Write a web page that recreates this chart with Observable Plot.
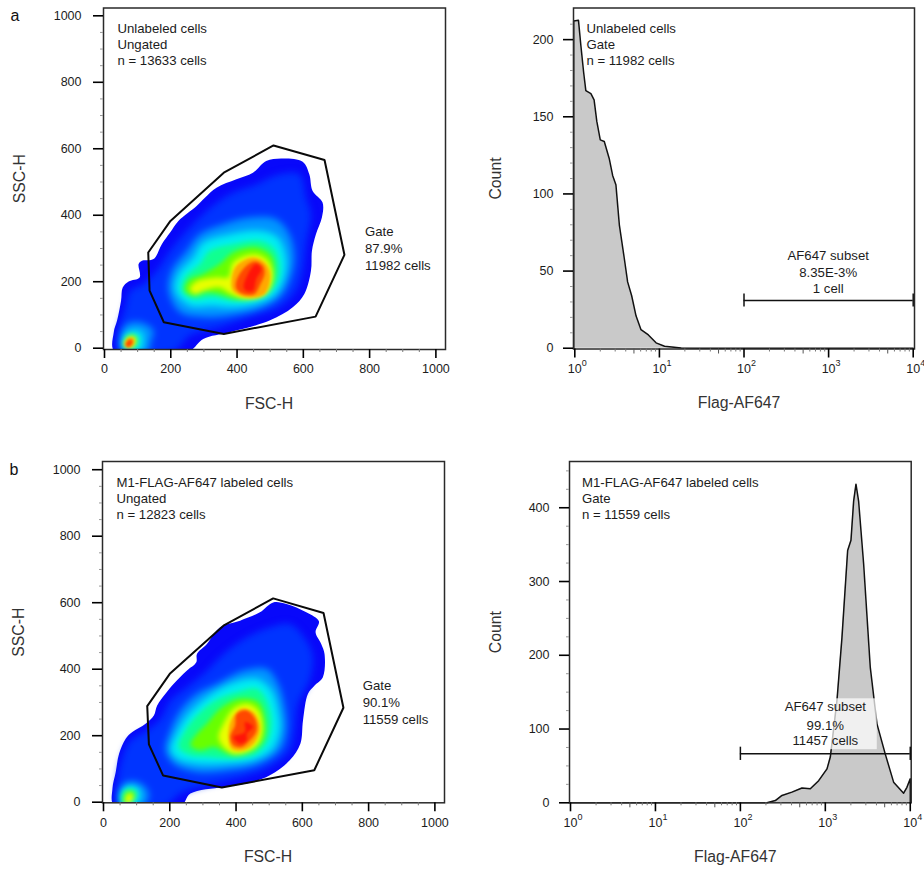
<!DOCTYPE html>
<html><head><meta charset="utf-8">
<script src="https://cdn.jsdelivr.net/npm/d3@7"></script>
<script src="https://cdn.jsdelivr.net/npm/@observablehq/plot@0.6"></script>
<style>
html,body{margin:0;padding:0;background:#fff}
#root{position:relative;width:924px;height:871px;overflow:hidden}
#root svg{position:absolute;display:block;overflow:visible}
</style></head><body><div id="root"></div>
<script>
// density level colours, low to high
const jet = ["#0808fa","#0034ff","#0094ff","#00eef0","#10ff90","#68ff00","#e8ff00","#ffa800","#ff4800","#ff1408"];

// panel a: FSC-H / SSC-H density contours [x, y]
const densityA = [
 [[30,-10],[28,48],[38,83],[50,143],[55,183],[73,201],[106,213],[103,253],[113,263],[148,268],[173,313],[198,348],[223,383],[278,428],[303,453],[338,483],[398,508],[448,528],[488,563],[533,571],[598,561],[618,523],[628,473],[658,438],[656,393],[638,343],[626,293],[623,233],[603,163],[568,123],[498,83],[378,48],[298,28],[253,-10]],
 [[48,-10],[43,53],[63,123],[78,173],[118,193],[158,233],[198,293],[248,353],[308,413],[378,463],[458,493],[528,523],[588,523],[608,453],[623,403],[608,313],[598,233],[578,173],[528,123],[438,93],[348,63],[258,38],[208,-10]],
 [[193,173],[203,233],[248,293],[288,343],[358,373],[438,393],[518,388],[558,343],[573,273],[558,203],[528,153],[468,118],[378,98],[298,93],[228,108]],
 [[213,173],[223,223],[268,273],[298,318],[378,343],[468,353],[523,333],[548,273],[543,213],[513,158],[458,133],[388,123],[328,128],[258,128]],
 [[233,173],[243,213],[288,253],[318,293],[388,313],[468,323],[513,298],[528,253],[523,203],[493,163],[438,143],[378,143],[328,153],[268,148]],
 [[243,173],[253,203],[298,223],[348,253],[388,288],[458,303],[503,278],[513,233],[503,183],[473,153],[398,148],[348,163],[308,168],[268,158]],
 [[258,178],[278,201],[338,213],[373,213],[388,258],[448,283],[488,268],[508,223],[488,163],[428,148],[383,163],[348,183],[298,173],[273,163]],
 [[383,203],[398,248],[448,273],[483,258],[500,223],[483,163],[428,153],[388,173]],
 [[398,203],[423,243],[453,261],[478,248],[483,223],[468,188],[453,163],[418,163],[398,178]],
 [[420,183],[433,223],[458,253],[473,238],[458,208],[448,173],[428,173]]
];
const densityASmall = [
 null, null,
 [[53,-10],[48,43],[68,73],[108,78],[148,53],[138,13],[133,-10]],
 [[55,-10],[58,38],[83,53],[113,48],[118,23],[108,-10]],
 [[58,8],[66,35],[88,43],[103,28],[93,3]],
 [[60,10],[68,34],[89,38],[98,24],[86,4]],
 [[60,8],[70,32],[90,35],[94,18],[80,0]],
 [[61,10],[71,29],[87,30],[88,13],[72,1]],
 [[64,10],[73,25],[84,24],[83,11],[71,3]],
 null
];
// panel b
const densityB = [
 [[32,-10],[27,41],[37,91],[47,146],[67,191],[87,211],[127,236],[152,261],[162,291],[187,326],[212,356],[252,396],[280,421],[282,446],[312,476],[352,526],[412,546],[472,571],[512,601],[552,596],[612,571],[650,544],[640,511],[657,476],[667,446],[662,376],[637,351],[617,326],[602,246],[594,176],[562,126],[502,81],[432,56],[362,46],[262,26],[234,-10]],
 [[47,-10],[42,56],[57,136],[82,186],[132,216],[172,251],[202,306],[252,346],[302,386],[362,446],[432,496],[502,526],[562,536],[612,486],[632,436],[622,366],[587,296],[577,216],[562,156],[502,106],[422,76],[332,56],[232,26],[187,-10]],
 [[187,156],[202,216],[232,276],[282,326],[342,356],[422,396],[492,401],[527,356],[547,286],[552,216],[532,156],[472,116],[382,96],[282,91],[212,116]],
 [[202,156],[222,211],[257,266],[312,316],[382,356],[462,371],[507,336],[527,276],[532,216],[507,156],[452,126],[362,116],[282,116],[222,131]],
 [[227,166],[247,216],[282,261],[337,306],[402,331],[462,341],[492,306],[507,246],[497,186],[462,146],[392,131],[322,136],[262,141]],
 [[262,171],[282,206],[312,236],[352,281],[412,311],[467,301],[487,251],[484,191],[452,156],[392,141],[332,166],[292,156]],
 [[347,196],[362,236],[392,281],[432,296],[467,276],[480,226],[467,176],[432,151],[392,146],[362,166]],
 [[377,196],[387,251],[417,281],[452,271],[472,226],[457,181],[422,156],[387,161]],
 [[382,196],[397,231],[402,266],[432,276],[457,251],[462,216],[442,186],[417,166],[392,171]],
 [[392,196],[427,211],[427,241],[442,236],[452,226],[432,206],[432,186],[412,176]]
];
const densityBSmall = [
 null, null,
 [[52,-10],[47,36],[72,61],[112,56],[137,26],[122,-10]],
 [[54,-10],[52,31],[77,51],[107,41],[112,16],[97,-10]],
 [[57,-4],[59,31],[80,41],[100,31],[97,11],[82,-4]],
 [[62,-4],[65,26],[80,34],[95,24],[90,8],[74,-4]],
 [[67,-4],[72,24],[84,26],[89,14],[80,-4]],
 null, null, null
];
const gateA = [[132,288],[136,173],[179,78],[360,43],[637,95],[724,281],[664,566],[510,610],[360,528],[199,383]];
const gateB = [[132,289],[137,174],[180,80],[357,44],[636,96],[724,284],[664,569],[512,613],[362,531],[200,386]];

// histograms
const histAx = [0.97,0.97,1.105,1.18,1.27,1.35,1.55,1.69,1.82,2.0,2.23,2.55,2.8,3.06,3.36,3.85,4.21,4.7,5.29,6.06,7.41,9.13,11.5,18.1,30,10000];
const histAy = [0,212,212.5,196,179,167,165,161,147,135,134,123,112,106,80,58,43,34,21,12,8.6,3.5,1.3,0.2,0,0];
const histBx = [0.97,206,258,309,405,531,666,835,1047,1145,1372,1570,1832,2005,2155,2296,2466,2825,3381,4055,5082,6368,8356,9140,10000,10000];
const histBy = [0,0,3,10,14.5,20,19,30,46,62,139,224,342,356,409,432,409,324,184,107,66,28,13,21,32.5,0];

const scatterMajor = [0,200,400,600,800,1000];
const scatterMinor = [50,100,150,250,300,350,450,500,550,650,700,750,850,900,950];
const decades = [1,10,100,1000,10000];
const exponents = ["0","1","2","3","4"];
const logMinorShort = [2,3,4,6,7,8,9].flatMap(d => [1,10,100,1000].map(m => d*m));
const logMinorMid = [5,50,500,5000];
const histATicks = [0,50,100,150,200];
const histAMinor = [10,20,30,40,60,70,80,90,110,120,130,140,160,170,180,190,210];
const histBTicks = [0,100,200,300,400];
const histBMinor = [25,50,75,125,150,175,225,250,275,325,350,375,425,450];

const FONT = '"Liberation Sans", Arial, Helvetica, sans-serif';
const INK = "#1c1c1c";
const root = document.getElementById("root");

function place(svg, left, top){ svg.style.left = left+"px"; svg.style.top = top+"px"; root.appendChild(svg); }

function levelRows(levels, small){
  const rows = [];
  levels.forEach((pts,i)=>{
    pts.forEach(p=>rows.push({x:p[0],y:p[1],id:"m"+i,c:jet[i],lv:i}));
    if(small[i]) small[i].forEach(p=>rows.push({x:p[0],y:p[1],id:"s"+i,c:jet[i],lv:i}));
  });
  return rows;
}

function axes(opts){
  return [
    Plot.axisX({ticks:opts.xMajor, tickFormat:opts.xFormat, tickSize:9, tickPadding:opts.xPad, fontSize:12.5, fill:INK, stroke:"#000", strokeWidth:1.6, label:null, anchor:"bottom"}),
    Plot.axisY({ticks:opts.yMajor, tickFormat:"d", tickSize:10, tickPadding:opts.yPad, fontSize:12.5, fill:INK, stroke:"#000", strokeWidth:1.6, label:null, anchor:"left"})
  ];
}

function scatterPanel(c){
  const rows = levelRows(c.levels, c.small);
  const band = (a,b) => rows.filter(r=>r.lv>=a && r.lv<=b);
  const contour = {x:"x",y:"y",z:"id",fill:"c",stroke:null,curve:"catmull-rom-closed",clip:true};
  const gateRows = [...c.gate, c.gate[0]].map(p=>({x:p[0],y:p[1]}));
  const svg = Plot.plot({
    width:c.w, height:c.h, marginLeft:c.ml, marginRight:c.w-c.ml-c.fw, marginTop:c.mt, marginBottom:c.h-c.mt-c.fh,
    x:{domain:c.xd}, y:{domain:c.yd},
    style:{fontFamily:FONT, background:"transparent", color:INK},
    marks:[
      Plot.line(band(0,0),contour),
      Plot.line(band(1,3),{...contour,imageFilter:"blur(3.6px)"}),
      Plot.line(band(4,6),{...contour,imageFilter:"blur(2.4px)"}),
      Plot.line(band(7,9),{...contour,imageFilter:"blur(1.4px)"}),
      Plot.line(gateRows,{x:"x",y:"y",stroke:"#0a0a0a",strokeWidth:2,strokeLinejoin:"miter"}),
      Plot.frame({stroke:"#2a2a2a",strokeWidth:1.5}),
      ...axes({xMajor:scatterMajor,yMajor:scatterMajor,xFormat:"d",xPad:6,yPad:12}),
      Plot.axisX({ticks:scatterMinor,tickSize:3,text:null,label:null,stroke:"#777",anchor:"bottom"}),
      Plot.axisY({ticks:scatterMinor,tickSize:3,text:null,label:null,stroke:"#999",anchor:"left"}),
      Plot.text([c.head],{frameAnchor:"top-left",dx:14,dy:14,fontSize:13.2,lineHeight:1.21,fill:INK}),
      Plot.text([c.gateText],{x:c.gateX,y:c.gateY,textAnchor:"start",fontSize:13.2,lineHeight:1.28,fill:INK}),
      Plot.text(["FSC-H"],{frameAnchor:"bottom",dx:-5.5,dy:59,fontSize:15.8,fill:"#333"}),
      Plot.text(["SSC-H"],{frameAnchor:"left",dx:-84,rotate:-90,textAnchor:"middle",fontSize:15.8,fill:"#333"}),
      Plot.text([c.tag],{frameAnchor:"top-left",dx:-93,dy:2,fontSize:16,fill:"#111"})
    ]
  });
  place(svg,c.left,c.top);
}

function histPanel(c){
  const rows = c.hx.map((x,i)=>({x,y:c.hy[i]}));
  const svg = Plot.plot({
    width:c.w, height:c.h, marginLeft:c.ml, marginRight:c.w-c.ml-c.fw, marginTop:c.mt, marginBottom:c.h-c.mt-c.fh,
    x:{type:"log",domain:c.xd}, y:{domain:c.yd},
    style:{fontFamily:FONT, background:"transparent", color:INK},
    marks:[
      Plot.areaY(rows,{x:"x",y:"y",fill:"#c9c9c9"}),
      Plot.lineY(rows,{x:"x",y:"y",stroke:"#111",strokeWidth:1.5}),
      c.box ? Plot.rect([c.box],{x1:"x1",x2:"x2",y1:"y1",y2:"y2",fill:"#fff",fillOpacity:0.72}) : null,
      Plot.frame({stroke:"#2a2a2a",strokeWidth:1.5}),
      ...axes({xMajor:decades,yMajor:c.yMajor,xFormat:()=>"10",xPad:6,yPad:10}),
      Plot.axisX({ticks:logMinorShort,tickSize:3,text:null,label:null,stroke:"#777",anchor:"bottom"}),
      Plot.axisX({ticks:logMinorMid,tickSize:5,text:null,label:null,stroke:"#555",anchor:"bottom"}),
      Plot.axisY({ticks:c.yMinor,tickSize:3,text:null,label:null,stroke:"#999",anchor:"left"}),
      Plot.text(decades,{x:d=>d,text:(d,i)=>exponents[i],frameAnchor:"bottom",dx:7,dy:17,textAnchor:"start",fontSize:9,fill:INK}),
      Plot.ruleY([c.barY],{x1:100,x2:10000,stroke:"#111",strokeWidth:1.5}),
      Plot.ruleX([100,10000],{y1:c.barY-c.cap,y2:c.barY+c.cap,stroke:"#111",strokeWidth:1.5}),
      Plot.text([c.head],{frameAnchor:"top-left",dx:c.headDx,dy:14,fontSize:13.2,lineHeight:1.21,fill:INK}),
      ...c.sub.map((t,i)=>Plot.text([t],{x:c.subX,y:c.subY[i],fontSize:13.2,fill:INK})),
      Plot.text(["Flag-AF647"],{frameAnchor:"bottom",dx:-5,dy:59,fontSize:15.8,fill:"#333"}),
      Plot.text(["Count"],{frameAnchor:"left",dx:c.countDx,rotate:-90,textAnchor:"middle",fontSize:15.8,fill:"#333"})
    ]
  });
  place(svg,c.left,c.top);
}

scatterPanel({left:0,top:0,w:462,h:430,ml:103,mt:7.5,fw:342,fh:341.5,
  xd:[-3,1029],yd:[-3.9,1023.5],levels:densityA,small:densityASmall,gate:gateA,
  head:"Unlabeled cells\nUngated\nn = 13633 cells",gateText:"Gate\n87.9%\n11982 cells",gateX:786,gateY:302,tag:"a"});
histPanel({left:462,top:0,w:462,h:430,ml:111,mt:7.5,fw:341,fh:341,
  xd:[0.965,10360],yd:[-0.5,220.5],hx:histAx,hy:histAy,yMajor:histATicks,yMinor:histAMinor,
  barY:31,cap:4.2,head:"Unlabeled cells\nGate\nn = 11982 cells",headDx:13,
  sub:["AF647 subset","8.35E-3%","1 cell"],subX:989,subY:[60,48.6,38.6],countDx:-78});
scatterPanel({left:0,top:440,w:462,h:431,ml:102,mt:21,fw:342,fh:341.3,
  xd:[-3,1029],yd:[-1.8,1024.7],levels:densityB,small:densityBSmall,gate:gateB,
  head:"M1-FLAG-AF647 labeled cells\nUngated\nn = 12823 cells",gateText:"Gate\n90.1%\n11559 cells",gateX:782,gateY:303,tag:"b"});
histPanel({left:462,top:440,w:462,h:431,ml:107,mt:21,fw:341.7,fh:341.3,
  xd:[0.973,10260],yd:[0,462.7],hx:histBx,hy:histBy,yMajor:histBTicks,yMinor:histBMinor,
  box:{x1:312,x2:4090,y1:72,y2:141},
  barY:66.4,cap:9,head:"M1-FLAG-AF647 labeled cells\nGate\nn = 11559 cells",headDx:12.5,
  sub:["AF647 subset","99.1%","11457 cells"],subX:1000,subY:[130.6,105,84.5],countDx:-74});
</script></body></html>
